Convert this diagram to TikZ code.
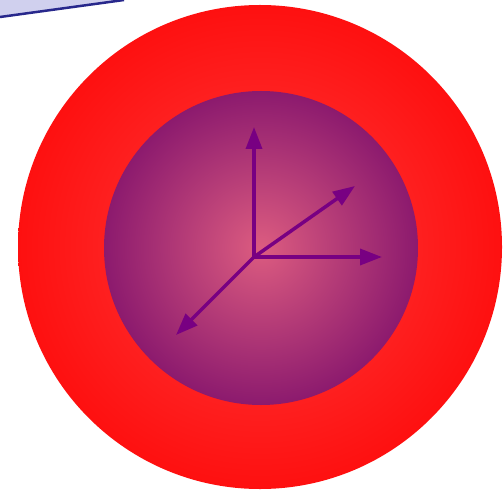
\documentclass[tikz,border=0pt]{standalone}
\usetikzlibrary{arrows.meta}
\definecolor{lav}{RGB}{208,208,238}
\definecolor{navyline}{RGB}{40,40,140}
\definecolor{redin}{RGB}{255,60,60}
\definecolor{redout}{RGB}{254,16,16}
\definecolor{pinkin}{RGB}{220,92,128}
\definecolor{purpout}{RGB}{140,26,110}
\definecolor{axiscol}{RGB}{120,0,130}
\tikzset{
  axis/.style={line width=3.5bp, draw=axiscol, -{Triangle[length=22bp,width=16bp]}}
}
\begin{document}
\begin{tikzpicture}[x=1bp,y=-1bp]
\useasboundingbox (0,0) rectangle (504,492);
\fill[white] (0,0) rectangle (504,492);
% top-left panel corner
\fill[lav] (0,0) -- (124,0) -- (0,17) -- cycle;
\draw[navyline, line width=2.5bp] (0,17) -- (124,0);
% outer sphere
\shade[inner color=redin, outer color=redout] (260,247) circle (242);
% inner sphere
\shade[inner color=pinkin, outer color=purpout] (261,248) circle (157);
% axes
\coordinate (o) at (254,257);
\coordinate (zt) at (254,127);
\coordinate (xt) at (382,257);
\coordinate (yt) at (355,186);
\coordinate (wt) at (176,335);
\draw[axis] (o) -- (zt);
\draw[axis] (o) -- (xt);
\draw[axis] (o) -- (yt);
\draw[axis] (o) -- (wt);
\end{tikzpicture}
\end{document}
